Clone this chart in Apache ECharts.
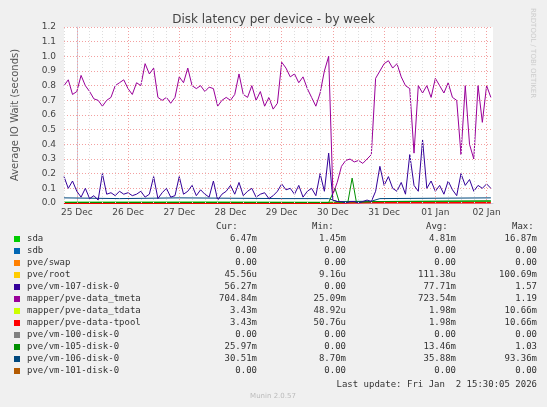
<!DOCTYPE html>
<html><head><meta charset="utf-8">
<script src="https://cdn.jsdelivr.net/npm/echarts@6/dist/echarts.min.js"></script>
<style>html,body{margin:0;padding:0;background:#f0f0f0}#chart{width:547px;height:407px}</style>
</head><body><div id="chart"></div>
<script>
// hours from 25 Dec 00:00, one sample every 2h starting at -6h
var startHour = -6, stepHour = 2;
var dayLabels = ['25 Dec','26 Dec','27 Dec','28 Dec','29 Dec','30 Dec','31 Dec','01 Jan','02 Jan'];

var tmeta = [0.80,0.84,0.74,
  0.76,0.87,0.80,0.76,0.71,0.70,0.66,0.70,0.72,0.80,0.82,0.84,
  0.78,0.74,0.82,0.80,0.95,0.88,0.92,0.72,0.70,0.72,0.68,0.72,
  0.86,0.82,0.92,0.80,0.78,0.80,0.76,0.79,0.78,0.66,0.70,0.72,
  0.70,0.74,0.88,0.74,0.72,0.80,0.70,0.76,0.66,0.72,0.64,0.68,
  0.96,0.92,0.86,0.88,0.82,0.86,0.78,0.72,0.66,0.75,0.90,1.00,
  0.06,0.14,0.25,0.29,0.30,0.28,0.29,0.27,0.30,0.33,0.85,0.90,
  0.95,0.97,0.92,0.95,0.86,0.80,0.78,0.34,0.80,0.75,0.80,0.72,
  0.85,0.80,0.75,0.82,0.72,0.70,0.33,0.80,0.40,0.30,0.80,0.55,
  0.80,0.72];
var vm107 = [0.18,0.10,0.15,
  0.08,0.04,0.10,0.03,0.05,0.02,0.20,0.06,0.07,0.05,0.08,0.06,
  0.07,0.05,0.06,0.08,0.04,0.06,0.18,0.03,0.07,0.10,0.04,0.05,
  0.18,0.06,0.08,0.12,0.05,0.09,0.06,0.04,0.15,0.02,0.06,0.08,
  0.12,0.06,0.14,0.05,0.08,0.10,0.04,0.06,0.07,0.03,0.05,0.08,
  0.13,0.09,0.10,0.06,0.12,0.04,0.08,0.10,0.05,0.20,0.08,0.34,
  0.02,0.01,0.01,0.00,0.01,0.01,0.00,0.01,0.02,0.01,0.08,0.25,
  0.12,0.18,0.10,0.08,0.14,0.06,0.33,0.12,0.08,0.43,0.10,0.15,
  0.08,0.12,0.06,0.15,0.09,0.05,0.20,0.12,0.16,0.08,0.12,0.10,
  0.13,0.10];
// sparse series: [hour, value]
var vm106 = [[-6,0.035],[20,0.03],[48,0.035],[96,0.03],[118,0.03],[122,0.01],[138,0.012],[142,0.03],[194,0.035]];
var vm105 = [[-6,0.003],[118,0.003],[121,0.1],[123,0.005],[127,0.005],[129,0.17],[131,0.005],[140,0.01],[194,0.015]];
var sda = [[-6,0.006],[60,0.007],[118,0.005],[140,0.01],[194,0.012]];
var tpool = [[-6,0],[118,0],[136,0.003],[194,0.003]];

var names = ['sda','sdb','pve/swap','pve/root','pve/vm-107-disk-0','mapper/pve-data_tmeta','mapper/pve-data_tdata','mapper/pve-data-tpool','pve/vm-100-disk-0','pve/vm-105-disk-0','pve/vm-106-disk-0','pve/vm-101-disk-0'];
var colors = ['#00cc00','#0066b3','#ff8000','#ffcc00','#330099','#990099','#ccff00','#ff0000','#808080','#008f00','#00487d','#b35a00'];
var curV = ['6.47m','0.00','0.00','45.56u','56.27m','704.84m','3.43m','3.43m','0.00','25.97m','30.51m','0.00'];
var minV = ['1.45m','0.00','0.00','9.16u','0.00','25.09m','48.92u','50.76u','0.00','0.00','8.70m','0.00'];
var avgV = ['4.81m','0.00','0.00','111.38u','77.71m','723.54m','1.98m','1.98m','0.00','13.46m','35.88m','0.00'];
var maxV = ['16.87m','0.00','0.00','100.69m','1.57','1.19','10.66m','10.66m','0.00','1.03','93.36m','0.00'];

function toPairs(arr){ return arr.map(function(v,i){ return [startHour + i*stepHour, v]; }); }

var chart = echarts.init(document.getElementById('chart'), null, {renderer:'canvas'});
var mono = 'DejaVu Sans Mono';
var g = [];
var rowTop = 240, rowH = 12;
var hdrY = 222;
g.push({type:'text', x:216, y:hdrY, style:{text:'Cur:', font:'9px '+mono, fill:'#333'}});
g.push({type:'text', x:312, y:hdrY, style:{text:'Min:', font:'9px '+mono, fill:'#333'}});
g.push({type:'text', x:426, y:hdrY, style:{text:'Avg:', font:'9px '+mono, fill:'#333'}});
g.push({type:'text', x:512, y:hdrY, style:{text:'Max:', font:'9px '+mono, fill:'#333'}});
names.forEach(function(n,i){
  var y = rowTop + i*rowH;
  g.push({type:'rect', shape:{x:14,y:y-4,width:6,height:6}, style:{fill:colors[i]}});
  g.push({type:'text', x:27, y:y-6, style:{text:n, font:'9px '+mono, fill:'#333'}});
  [[curV,257],[minV,346],[avgV,456],[maxV,537]].forEach(function(c){
    g.push({type:'text', x:c[1], y:y-6, style:{text:c[0][i], font:'9px '+mono, fill:'#333', align:'right'}});
  });
});
g.push({type:'text', x:537, y:380, style:{text:'Last update: Fri Jan  2 15:30:05 2026', font:'9px '+mono, fill:'#333', align:'right'}});
g.push({type:'text', x:273, y:393, style:{text:'Munin 2.0.57', font:'7px DejaVu Sans', fill:'#bbb', align:'center'}});
g.push({type:'text', x:536, y:8, rotation:-Math.PI/2, style:{text:'RRDTOOL / TOBI OETIKER', font:'7px DejaVu Sans', fill:'#ccc'}});

var dayLines = [], minorLines = [];
for (var h=0; h<=192; h+=24) dayLines.push({xAxis:h});
for (var h2=-6; h2<=194; h2+=6) if (h2 % 24 !== 0) minorLines.push({xAxis:h2});

function line(name, data, color, extra){
  return Object.assign({name:name, type:'line', data:data, symbol:'none', animation:false,
    lineStyle:{width:1, color:color}, itemStyle:{color:color}}, extra||{});
}

chart.setOption({
  backgroundColor:'#f0f0f0',
  title:{text:'Disk latency per device - by week', left:'center', top:9,
    textStyle:{fontSize:12, fontWeight:'normal', color:'#444', fontFamily:'DejaVu Sans'}},
  grid:{left:64, right:54, top:27, bottom:204, backgroundColor:'#fff', show:true, borderWidth:0},
  xAxis:{type:'value', min:-6, max:195,
    axisLine:{lineStyle:{color:'#ccd'}}, axisTick:{show:false}, splitLine:{show:false},
    axisLabel:{customValues:[0,24,48,72,96,120,144,168,192], fontSize:9, color:'#444', fontFamily:'DejaVu Sans', margin:5,
      formatter:function(v){ return dayLabels[Math.round(v/24)] || ''; }}},
  yAxis:{type:'value', min:0, max:1.2, interval:0.1, name:'Average IO Wait (seconds)', nameLocation:'middle', nameGap:44,
    nameTextStyle:{fontSize:10, color:'#555', fontFamily:'DejaVu Sans'},
    axisLine:{show:true, lineStyle:{color:'#ccd'}}, axisTick:{show:false},
    axisLabel:{fontSize:9, color:'#444', fontFamily:'DejaVu Sans', formatter:function(v){return v.toFixed(1);}},
    splitLine:{lineStyle:{color:'#f3a0a0', type:[1,2]}}},
  graphic:g,
  series:[
    line('grid', [], '#000', {markLine:{silent:true, symbol:'none', label:{show:false},
      data:minorLines.map(function(d){return Object.assign({lineStyle:{color:'#ddd',type:[1,2],width:1}}, d);})
        .concat(dayLines.map(function(d){return Object.assign({lineStyle:{color:'#f3a0a0',type:[1,2],width:1}}, d);}))}}),
    line(names[7], tpool, colors[7], {lineStyle:{width:2,color:colors[7]}}),
    line(names[0], sda, colors[0]),
    line(names[10], vm106, colors[10]),
    line(names[9], vm105, colors[9]),
    line(names[4], toPairs(vm107), colors[4]),
    line(names[5], toPairs(tmeta), colors[5])
  ]
});
</script></body></html>
